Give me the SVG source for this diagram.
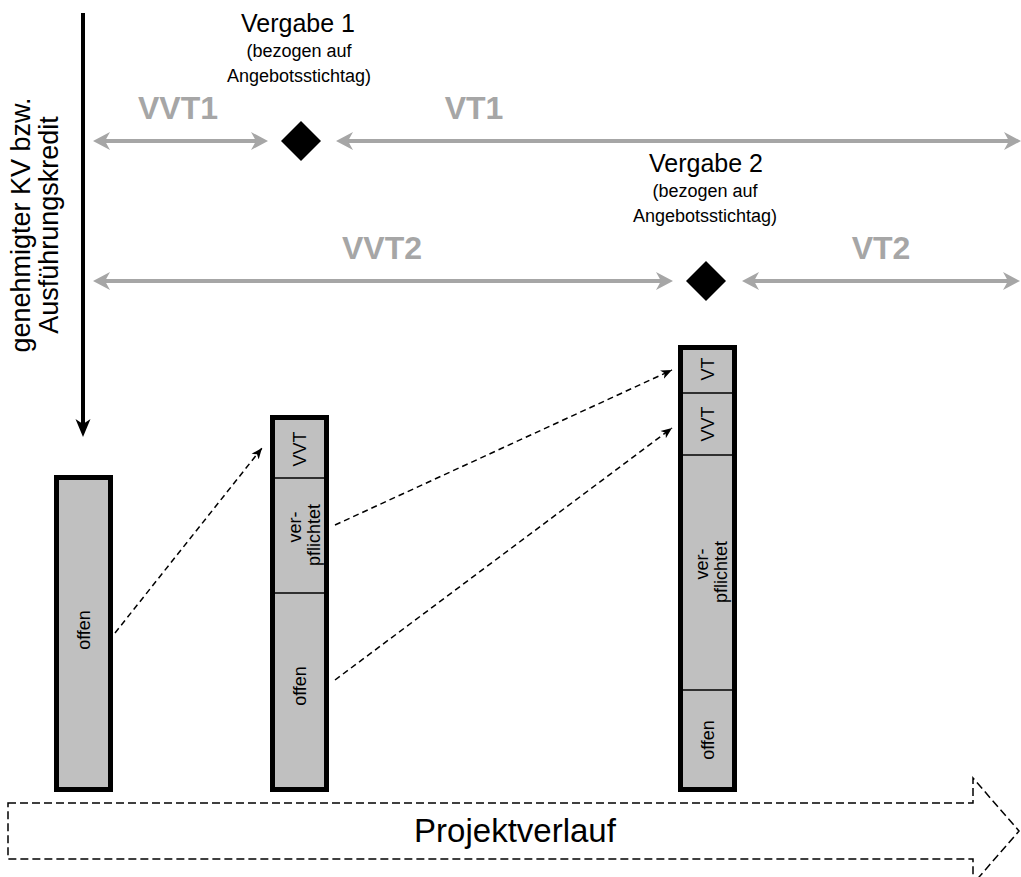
<svg xmlns="http://www.w3.org/2000/svg" width="1021" height="877" viewBox="0 0 1021 877">
<style>
text{font-family:"Liberation Sans",Arial,sans-serif;fill:#000}
.gl{font-size:32px;font-weight:bold;fill:#a6a6a6;text-anchor:middle}
.vg{font-size:25px;text-anchor:middle}
.sub{font-size:18px;text-anchor:middle}
.bt{font-size:18px;text-anchor:middle}
.side{font-size:27px;text-anchor:middle}
.gline{stroke:#a6a6a6;stroke-width:4;fill:none;marker-start:url(#ga);marker-end:url(#ga)}
.bar{fill:#c0c0c0;stroke:#000;stroke-width:5}
.div{stroke:#000;stroke-width:1.5}
.dash{stroke:#000;stroke-width:1.5;stroke-dasharray:6 4;fill:none;marker-end:url(#da)}
</style>
<defs>
<marker id="ga" viewBox="-17 -10 17 20" refX="-10" refY="0" markerWidth="17" markerHeight="20" markerUnits="userSpaceOnUse" orient="auto-start-reverse">
<path d="M0,0 L-17,-9 L-12,0 L-17,9 Z" fill="#a6a6a6"/>
</marker>
<marker id="ba" viewBox="-18 -8 18 16" refX="-10" refY="0" markerWidth="18" markerHeight="16" markerUnits="userSpaceOnUse" orient="auto">
<path d="M0,0 L-18,-7.5 L-13,0 L-18,7.5 Z" fill="#000"/>
</marker>
<marker id="da" viewBox="-11 -5 11 10" refX="0" refY="0" markerWidth="11" markerHeight="10" markerUnits="userSpaceOnUse" orient="auto">
<path d="M0,0 L-11,-4.5 L-8,0 L-11,4.5 Z" fill="#000"/>
</marker>
</defs>

<g id="budget-axis">
<line x1="83" y1="13" x2="83" y2="427" stroke="#000" stroke-width="4" marker-end="url(#ba)"/>
<text class="side" transform="translate(30,225) rotate(-90)">genehmigter KV bzw.</text>
<text class="side" transform="translate(58,225) rotate(-90)">Ausführungskredit</text>
</g>

<g id="vergabe1">
<text class="vg" x="298" y="32">Vergabe 1</text>
<text class="sub" x="299" y="57">(bezogen auf</text>
<text class="sub" x="299" y="82">Angebotsstichtag)</text>
<path d="M301,121 L321,141 L301,161 L281,141 Z" fill="#000"/>
</g>

<g id="vergabe2">
<text class="vg" x="706" y="172">Vergabe 2</text>
<text class="sub" x="705" y="197">(bezogen auf</text>
<text class="sub" x="705" y="222">Angebotsstichtag)</text>
<path d="M706,261 L726,281 L706,301 L686,281 Z" fill="#000"/>
</g>

<g id="periods">
<text class="gl" x="178" y="119">VVT1</text>
<text class="gl" x="474" y="119">VT1</text>
<text class="gl" x="382" y="259">VVT2</text>
<text class="gl" x="881" y="259">VT2</text>
</g>

<g id="bar1">
<rect class="bar" x="56.5" y="477.5" width="54" height="312"/>
<text class="bt" transform="translate(90,630) rotate(-90)">offen</text>
</g>

<g id="bar2">
<rect class="bar" x="272.5" y="417.5" width="54" height="372"/>
<line class="div" x1="275" y1="478" x2="324" y2="478"/>
<line class="div" x1="275" y1="593" x2="324" y2="593"/>
<text class="bt" transform="translate(306,449) rotate(-90)">VVT</text>
<text class="bt" transform="translate(301,527) rotate(-90)">ver-</text>
<text class="bt" transform="translate(320,535) rotate(-90)">pflichtet</text>
<text class="bt" transform="translate(306,686) rotate(-90)">offen</text>
</g>

<g id="bar3">
<rect class="bar" x="680.5" y="347.5" width="54" height="442"/>
<line class="div" x1="683" y1="393" x2="732" y2="393"/>
<line class="div" x1="683" y1="455" x2="732" y2="455"/>
<line class="div" x1="683" y1="690" x2="732" y2="690"/>
<text class="bt" transform="translate(714,369) rotate(-90)">VT</text>
<text class="bt" transform="translate(714,424) rotate(-90)">VVT</text>
<text class="bt" transform="translate(708,564) rotate(-90)">ver-</text>
<text class="bt" transform="translate(727,572) rotate(-90)">pflichtet</text>
<text class="bt" transform="translate(714,740) rotate(-90)">offen</text>
</g>

<g id="timeline">
<path d="M8,803 L973,803 L973,778 L1019,831 L973,884 L973,859 L8,859 Z" fill="none" stroke="#000" stroke-width="1.5" stroke-dasharray="8 4"/>
<text x="515" y="842" style="font-size:33px;text-anchor:middle">Projektverlauf</text>
</g>

<g id="connectors">
<line class="gline" x1="103" y1="141" x2="258" y2="141"/>
<line class="gline" x1="346" y1="141" x2="1011" y2="141"/>
<line class="gline" x1="103" y1="281" x2="663" y2="281"/>
<line class="gline" x1="752" y1="281" x2="1010" y2="281"/>
<line class="dash" x1="115" y1="633" x2="262" y2="448"/>
<line class="dash" x1="335" y1="525" x2="672" y2="370"/>
<line class="dash" x1="335" y1="680" x2="672" y2="428"/>
</g>
</svg>
